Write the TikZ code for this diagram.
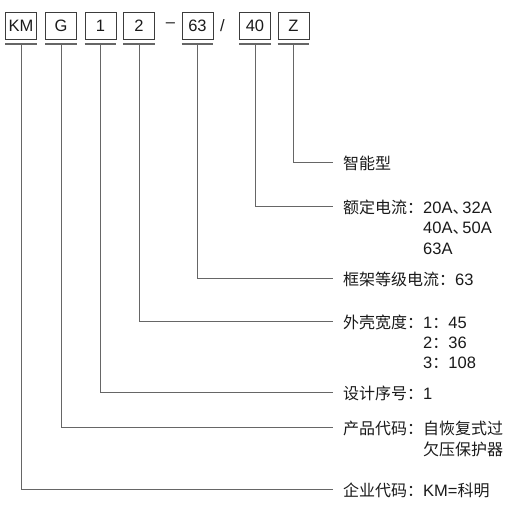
\documentclass[tikz,border=0pt]{standalone}
\usepackage{fontspec}
\setmainfont{Liberation Sans}
\newfontfamily\cjk[Scale=0.97]{Noto Sans CJK SC}
\newcommand\zh[1]{{\cjk #1}}
\newcommand\dun{\makebox[0.6em][l]{\zh{、}}}
\definecolor{boxc}{HTML}{3C3C3C}
\definecolor{linec}{HTML}{666666}
\definecolor{txt}{HTML}{1A1A1A}
\begin{document}
\begin{tikzpicture}[x=1pt,y=-1pt,
  box/.style={draw=boxc, line width=0.9pt, minimum width=31pt, minimum height=27pt,
    inner sep=0pt, text height=11.8pt, text depth=0pt, text=txt,
    font=\fontsize{16.5}{20}\selectfont},
  sep/.style={inner sep=0pt, text=txt, font=\fontsize{16.5}{20}\selectfont},
  lbl/.style={anchor=west, inner sep=0pt, text=txt, font=\fontsize{16.5}{20}\selectfont},
  conn/.style={draw=linec, line width=1pt},
  uline/.style={draw=linec, line width=1.1pt},
]
\useasboundingbox (0,0) rectangle (507,505);
% code boxes
\node[box] (bKM) at (21,25.5) {KM};
\node[box] (bG)  at (61,25.5) {G};
\node[box] (b1)  at (100.5,25.5) {1};
\node[box] (b2)  at (139,25.5) {2};
\node[sep] (dash) at (170.5,25.5) {–};
\node[box] (b63) at (197.5,25.5) {63};
\node[sep] (slash) at (222.5,25.5) {/};
\node[box] (b40) at (255,25.5) {40};
\node[box] (bZ)  at (293.5,25.5) {Z};
% underline anchor points
\foreach \n in {KM,G,1,2,63,40,Z}{
  \coordinate (u\n) at (b\n.south |- 0,44);
  \draw[uline] (b\n.south west |- 0,44) -- (b\n.south east |- 0,44);
}
% labels
\node[lbl] (lZ) at (343,163) {\zh{智能型}};
\node[lbl] (l40) at (343,207) {\zh{额定电流：}20A\dun 32A};
\node[lbl] (l40b) at (343,227.5) {\phantom{\zh{额定电流：}}40A\dun 50A};
\node[lbl] (l40c) at (343,248) {\phantom{\zh{额定电流：}}63A};
\node[lbl] (l63) at (343,279) {\zh{框架等级电流：}63};
\node[lbl] (l2) at (343,322) {\zh{外壳宽度：}1\zh{：}45};
\node[lbl] (l2b) at (343,342) {\phantom{\zh{外壳宽度：}}2\zh{：}36};
\node[lbl] (l2c) at (343,362) {\phantom{\zh{外壳宽度：}}3\zh{：}108};
\node[lbl] (l1) at (343,393) {\zh{设计序号：}1};
\node[lbl] (lG) at (343,428) {\zh{产品代码：自恢复式过}};
\node[lbl] (lGb) at (343,449) {\zh{\phantom{产品代码：}欠压保护器}};
\node[lbl] (lKM) at (343,490) {\zh{企业代码：}KM=\zh{科明}};
% connectors
\foreach \n in {KM,G,1,2,63,40,Z}{
  \coordinate (e\n) at ([xshift=-10pt]l\n.west);
  \draw[conn] (u\n) |- (e\n);
}
\end{tikzpicture}
\end{document}
